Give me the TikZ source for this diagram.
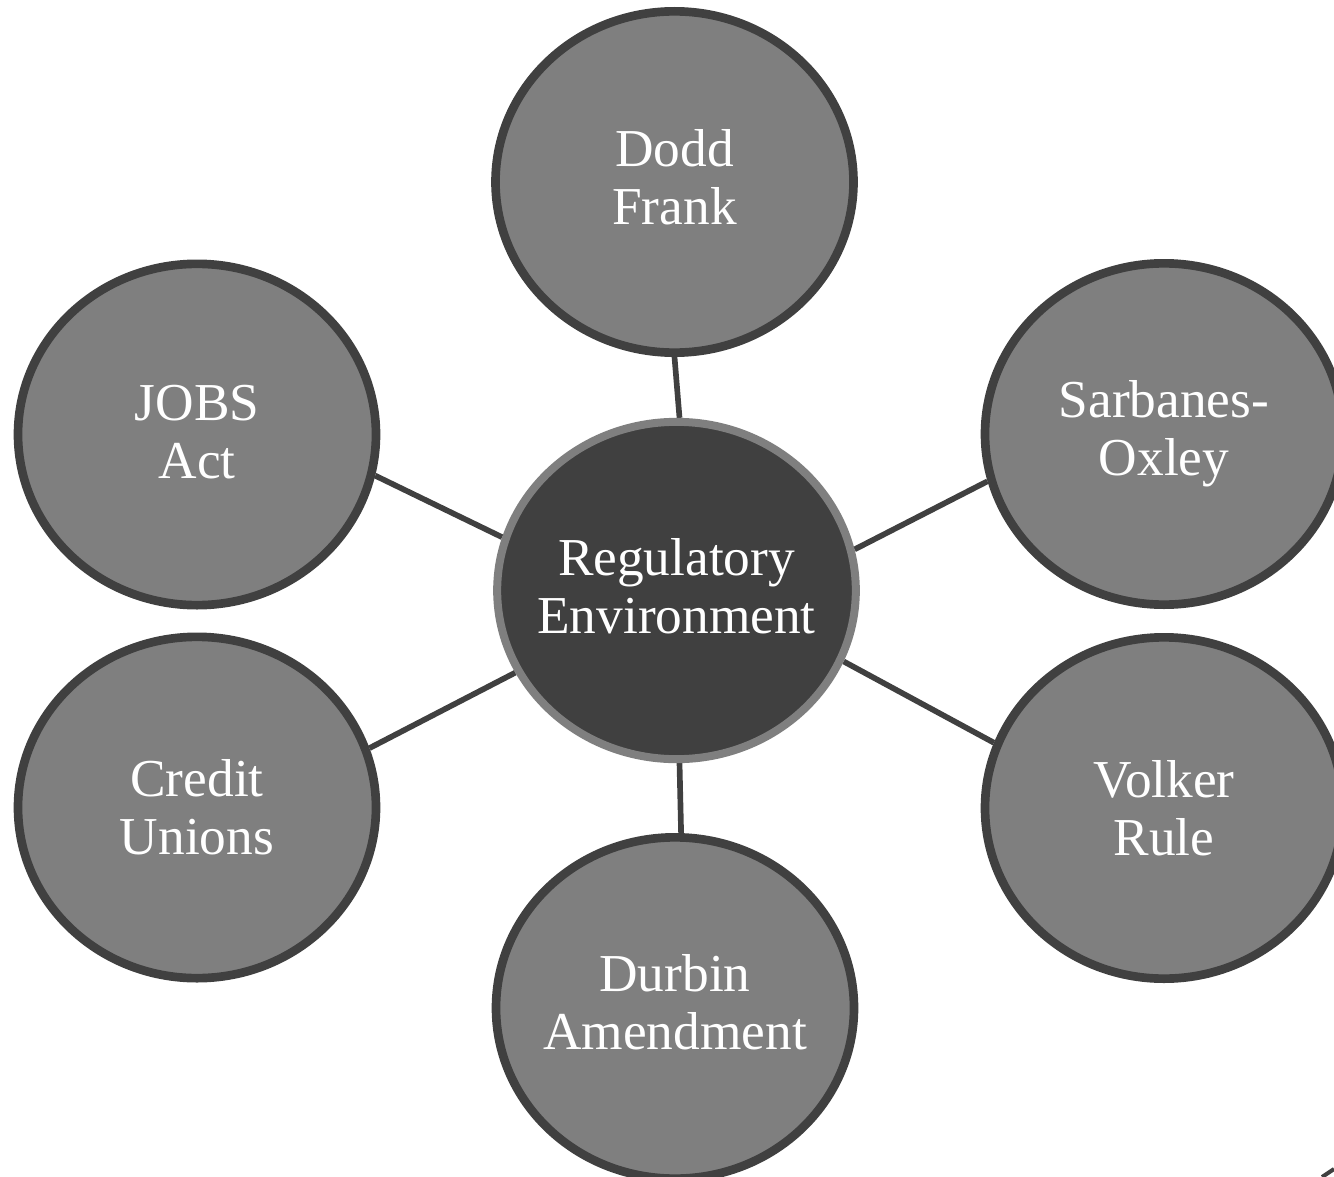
\documentclass[tikz,border=0pt]{standalone}
\usepackage{fontspec}
\setmainfont{Liberation Serif}
\usetikzlibrary{shapes.geometric,backgrounds}
\definecolor{darkgrey}{HTML}{404040}
\definecolor{midgrey}{HTML}{7F7F7F}
\begin{document}
\begin{tikzpicture}[x=0.75pt,y=-0.75pt,
  label text/.style={text=white, align=center, inner sep=0pt,
    font=\fontsize{40}{43.5}\selectfont},
  hub/.style={ellipse, draw=midgrey, fill=darkgrey, line width=6pt,
    minimum width=269pt, minimum height=253pt, inner sep=0pt},
  spoke/.style={ellipse, draw=darkgrey, fill=midgrey, line width=6.5pt,
    minimum width=268.5pt, minimum height=256pt, inner sep=0pt},
  caption/.style={label={[label text]center:{#1}}},
  raised caption/.style 2 args={label={[label text, yshift=#1]center:{#2}}},
  link/.style={draw=darkgrey, line width=4.25pt}]
  \useasboundingbox (0,0) rectangle (1334,1177);

  % central topic
  \node[hub, raised caption={3.5pt}{Regulatory\\Environment}] (env) at (676.5,590.5) {};

  % surrounding regulations
  \node[spoke, raised caption={3.5pt}{Dodd\\Frank}]       (dodd)   at (674.5,182)  {};
  \node[spoke, caption={Sarbanes-\\Oxley}]                (sox)    at (1164,434)   {};
  \node[spoke, caption={Volker\\Rule}]                    (volker) at (1164,808)   {};
  \node[spoke, raised caption={4pt}{Durbin\\Amendment}]   (durbin) at (675,1008)   {};
  \node[spoke, caption={Credit\\Unions}]                  (credit) at (197,807.5)  {};
  \node[spoke, raised caption={2pt}{JOBS\\Act}]           (jobs)   at (197,434.5)  {};

  % spokes, kept behind the circles
  \begin{scope}[on background layer]
    \draw[link] (env.89.8)   -- (dodd.-90.5);
    \draw[link] (env.13.7)   -- (sox.-165.4);
    \draw[link] (env.-23.3)  -- (volker.159.9);
    \draw[link] (env.-89.2)  -- (durbin.88.5);
    \draw[link] (env.-153.2) -- (credit.19.9);
    \draw[link] (env.163.4)  -- (jobs.-13.3);
  \end{scope}

  % edge of a shape cut off by the frame
  \draw[darkgrey, line width=3pt] (1322,1177) -- (1334,1169);
\end{tikzpicture}
\end{document}
